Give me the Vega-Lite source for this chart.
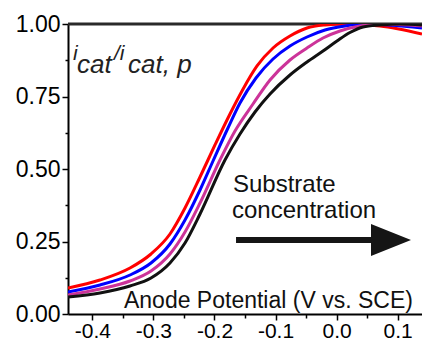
{
  "$schema": "https://vega.github.io/schema/vega-lite/v6.json",
  "width": 354,
  "height": 290,
  "autosize": "none",
  "padding": {"left": 68, "top": 24, "right": 0, "bottom": 28},
  "config": {"view": {"stroke": null}, "font": "Liberation Sans"},
  "encoding": {
    "x": {
      "field": "x", "type": "quantitative",
      "scale": {"domain": [-0.44, 0.14], "nice": false, "zero": false},
      "axis": {
        "title": null, "grid": false,
        "values": [-0.4, -0.35, -0.3, -0.25, -0.2, -0.15, -0.1, -0.05, 0, 0.05, 0.1],
        "labelExpr": "abs(datum.value*10 - round(datum.value*10)) < 0.01 ? (datum.value < -0.001 ? '-' : '') + format(abs(datum.value), '.1f') : ''",
        "tickSize": {"condition": {"test": "abs(datum.value*10 - round(datum.value*10)) < 0.01", "value": 6}, "value": 4},
        "domainColor": "black", "domainWidth": 2, "tickColor": "black", "tickWidth": 1.5,
        "labelFont": "Liberation Sans", "labelFontSize": 21, "labelColor": "black",
        "labelPadding": 0, "labelFlush": false, "labelOverlap": false
      }
    },
    "y": {
      "field": "y", "type": "quantitative",
      "scale": {"domain": [0, 1], "nice": false, "zero": false},
      "axis": {
        "title": null, "grid": false,
        "values": [0, 0.125, 0.25, 0.375, 0.5, 0.625, 0.75, 0.875, 1],
        "labelExpr": "abs(datum.value*4 - round(datum.value*4)) < 0.01 ? format(datum.value, '.2f') : ''",
        "tickSize": {"condition": {"test": "abs(datum.value*4 - round(datum.value*4)) < 0.01", "value": 6}, "value": 3},
        "domainColor": "black", "domainWidth": 2, "tickColor": "black", "tickWidth": 1.5,
        "labelFont": "Liberation Sans", "labelFontSize": 23, "labelColor": "black",
        "labelPadding": 2, "labelFlush": false, "labelOverlap": false
      }
    }
  },
  "layer": [
    {
      "data": {"values": [{"x": -0.44, "x2": 0.14, "y": 1}]},
      "mark": {"type": "rule", "color": "#2a2a2a", "strokeWidth": 3},
      "encoding": {"x2": {"field": "x2"}}
    },
    {
      "data": {"values": [
        {"s": "a", "x": -0.44, "y": 0.0897},
        {"s": "a", "x": -0.3876, "y": 0.1172},
        {"s": "a", "x": -0.3384, "y": 0.1586},
        {"s": "a", "x": -0.304, "y": 0.2069},
        {"s": "a", "x": -0.2729, "y": 0.2759},
        {"s": "a", "x": -0.2483, "y": 0.3655},
        {"s": "a", "x": -0.2237, "y": 0.4724},
        {"s": "a", "x": -0.1992, "y": 0.5828},
        {"s": "a", "x": -0.1746, "y": 0.6897},
        {"s": "a", "x": -0.1549, "y": 0.769},
        {"s": "a", "x": -0.1303, "y": 0.8552},
        {"s": "a", "x": -0.1041, "y": 0.9172},
        {"s": "a", "x": -0.0763, "y": 0.9586},
        {"s": "a", "x": -0.0484, "y": 0.9862},
        {"s": "a", "x": -0.0189, "y": 0.9966},
        {"s": "a", "x": 0.0138, "y": 1.0},
        {"s": "a", "x": 0.0712, "y": 0.9931},
        {"s": "a", "x": 0.14, "y": 0.9655},
        {"s": "b", "x": -0.44, "y": 0.0759},
        {"s": "b", "x": -0.3876, "y": 0.1},
        {"s": "b", "x": -0.3384, "y": 0.1345},
        {"s": "b", "x": -0.304, "y": 0.1759},
        {"s": "b", "x": -0.2729, "y": 0.2414},
        {"s": "b", "x": -0.2483, "y": 0.3241},
        {"s": "b", "x": -0.2237, "y": 0.4276},
        {"s": "b", "x": -0.2024, "y": 0.5276},
        {"s": "b", "x": -0.1779, "y": 0.6414},
        {"s": "b", "x": -0.1582, "y": 0.7276},
        {"s": "b", "x": -0.132, "y": 0.8138},
        {"s": "b", "x": -0.1041, "y": 0.8793},
        {"s": "b", "x": -0.0763, "y": 0.9241},
        {"s": "b", "x": -0.0484, "y": 0.9552},
        {"s": "b", "x": -0.0189, "y": 0.9793},
        {"s": "b", "x": 0.0138, "y": 0.9931},
        {"s": "b", "x": 0.0466, "y": 1.0},
        {"s": "b", "x": 0.14, "y": 0.9862},
        {"s": "c", "x": -0.44, "y": 0.0655},
        {"s": "c", "x": -0.3876, "y": 0.0862},
        {"s": "c", "x": -0.3384, "y": 0.1138},
        {"s": "c", "x": -0.304, "y": 0.1483},
        {"s": "c", "x": -0.2729, "y": 0.2069},
        {"s": "c", "x": -0.2483, "y": 0.2828},
        {"s": "c", "x": -0.2237, "y": 0.3828},
        {"s": "c", "x": -0.191, "y": 0.531},
        {"s": "c", "x": -0.1664, "y": 0.631},
        {"s": "c", "x": -0.1369, "y": 0.7241},
        {"s": "c", "x": -0.109, "y": 0.8069},
        {"s": "c", "x": -0.0763, "y": 0.8759},
        {"s": "c", "x": -0.0484, "y": 0.9172},
        {"s": "c", "x": -0.0222, "y": 0.9517},
        {"s": "c", "x": 0.0056, "y": 0.9759},
        {"s": "c", "x": 0.0384, "y": 0.9931},
        {"s": "c", "x": 0.0712, "y": 1.0},
        {"s": "c", "x": 0.14, "y": 0.9931},
        {"s": "d", "x": -0.44, "y": 0.0586},
        {"s": "d", "x": -0.3876, "y": 0.0724},
        {"s": "d", "x": -0.3384, "y": 0.0966},
        {"s": "d", "x": -0.304, "y": 0.1241},
        {"s": "d", "x": -0.2729, "y": 0.1759},
        {"s": "d", "x": -0.2483, "y": 0.2448},
        {"s": "d", "x": -0.2237, "y": 0.3448},
        {"s": "d", "x": -0.1828, "y": 0.531},
        {"s": "d", "x": -0.1582, "y": 0.6207},
        {"s": "d", "x": -0.1336, "y": 0.6966},
        {"s": "d", "x": -0.109, "y": 0.7586},
        {"s": "d", "x": -0.0763, "y": 0.8241},
        {"s": "d", "x": -0.0484, "y": 0.869},
        {"s": "d", "x": -0.0222, "y": 0.9069},
        {"s": "d", "x": 0.0007, "y": 0.9414},
        {"s": "d", "x": 0.022, "y": 0.9707},
        {"s": "d", "x": 0.0433, "y": 0.9897},
        {"s": "d", "x": 0.0712, "y": 0.9966},
        {"s": "d", "x": 0.1039, "y": 1.0},
        {"s": "d", "x": 0.14, "y": 0.9966}
      ]},
      "mark": {"type": "line", "strokeWidth": 3, "interpolate": "monotone", "clip": true},
      "encoding": {
        "color": {"field": "s", "type": "nominal", "legend": null,
          "scale": {"domain": ["a", "b", "c", "d"], "range": ["#ff0000", "#0000ff", "#cc3399", "#111111"]}}
      }
    },
    {
      "data": {"values": [{"x": -0.4318, "y": 0.8759, "t": "i"}, {"x": -0.3646, "y": 0.8759, "t": "/i"}]},
      "mark": {"type": "text", "align": "left", "baseline": "alphabetic", "fontSize": 21, "fontStyle": "italic", "color": "#222"},
      "encoding": {"text": {"field": "t"}}
    },
    {
      "data": {"values": [{"x": -0.4253, "y": 0.831, "t": "cat"}, {"x": -0.3417, "y": 0.831, "t": "cat, p"}]},
      "mark": {"type": "text", "align": "left", "baseline": "alphabetic", "fontSize": 26, "fontStyle": "italic", "color": "#222"},
      "encoding": {"text": {"field": "t"}}
    },
    {
      "data": {"values": [{"x": -0.1697, "y": 0.4207, "t": "Substrate"}, {"x": -0.1713, "y": 0.331, "t": "concentration"}]},
      "mark": {"type": "text", "align": "left", "baseline": "alphabetic", "fontSize": 24, "color": "#111"},
      "encoding": {"text": {"field": "t"}}
    },
    {
      "data": {"values": [{"x": -0.3483, "y": 0.0207, "t": "Anode Potential (V vs. SCE)"}]},
      "mark": {"type": "text", "align": "left", "baseline": "alphabetic", "fontSize": 23, "color": "#111"},
      "encoding": {"text": {"field": "t"}}
    },
    {
      "data": {"values": [{"x": -0.1647, "x2": 0.0712, "y": 0.2552}]},
      "mark": {"type": "rule", "strokeWidth": 6, "color": "#151515"},
      "encoding": {"x2": {"field": "x2"}}
    },
    {
      "data": {"values": [{"x": 0.0892, "y": 0.2552}]},
      "mark": {"type": "point", "filled": true, "shape": "M-1,-0.8L1,0L-1,0.8Z", "size": 1600, "color": "#151515", "opacity": 1, "strokeWidth": 0}
    }
  ]
}
